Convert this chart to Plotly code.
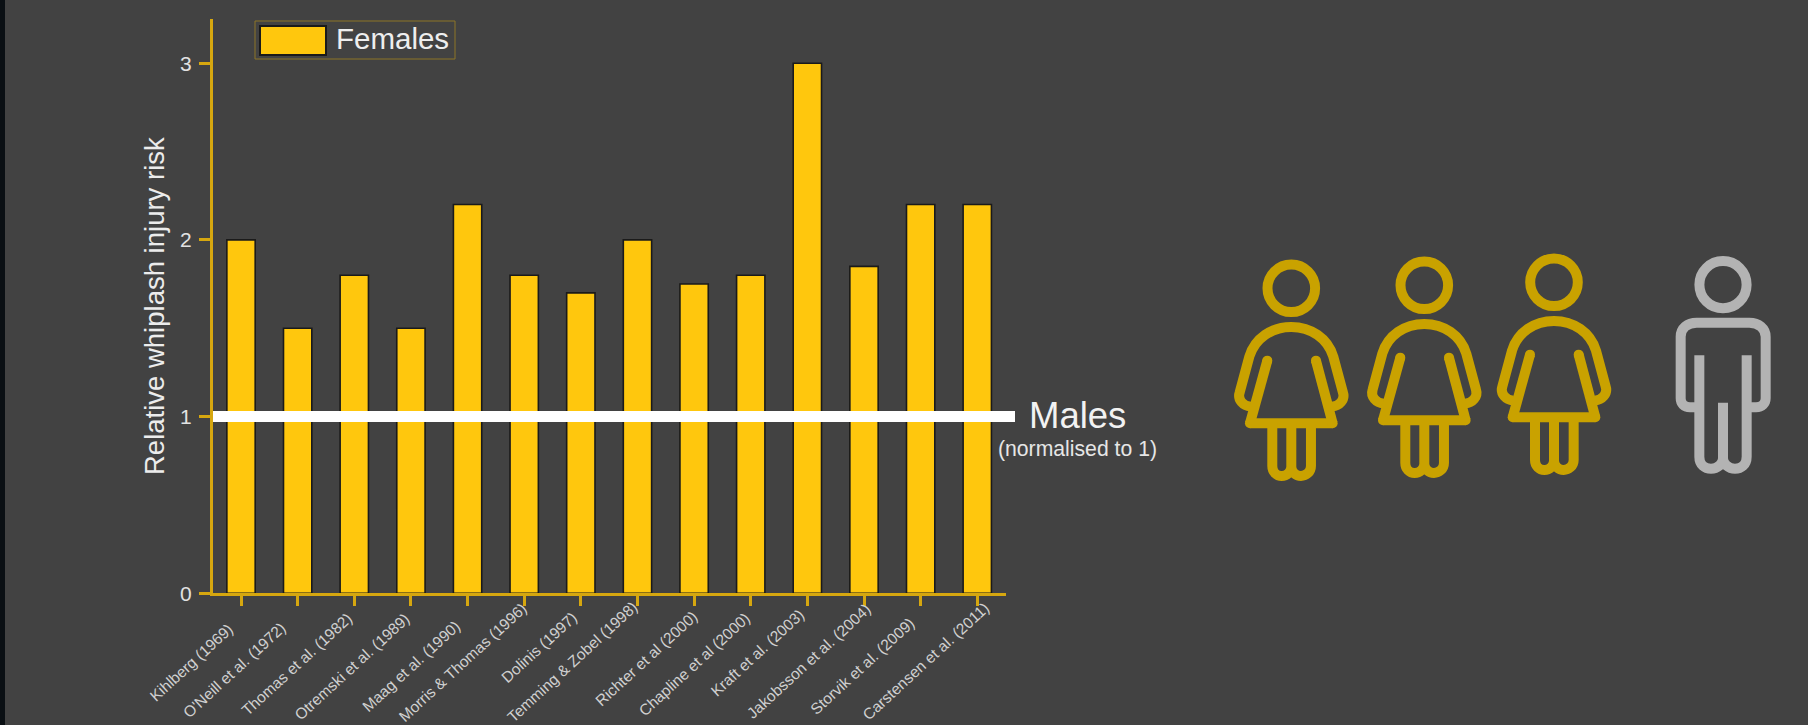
import plotly.graph_objects as go

studies = ["Kihlberg (1969)", "O'Neill et al. (1972)", "Thomas et al. (1982)", "Otremski et al. (1989)",
           "Maag et al. (1990)", "Morris & Thomas (1996)", "Dolinis (1997)", "Temming & Zobel (1998)",
           "Richter et al (2000)", "Chapline et al (2000)", "Kraft et al. (2003)", "Jakobsson et al. (2004)",
           "Storvik et al. (2009)", "Carstensen et al. (2011)"]
female_risk = [2, 1.5, 1.8, 1.5, 2.2, 1.8, 1.7, 2, 1.75, 1.8, 3, 1.85, 2.2, 2.2]
male_reference = 1
y_ticks = [0, 1, 2, 3]

# Study labels sit by hand under their ticks: centre offset from the tick, and centre height
label_shift = [-50, -64, -58, -59, -57, -62, -42, -65, -48, -57, -50, -56, -59, -52]
label_centre_y = [662, 670, 664, 666, 666, 662, 647, 661, 658, 664, 652, 661, 666, 661]

W, H = 1808, 725
BG = "#424242"
GOLD_AXIS = "#d6a70f"
BAR = "#ffc70d"
ICON_F = "#c9a200"
ICON_M = "#b3b3b3"
FONT = "Liberation Sans"


def px(x):
    return x / W


def py(y):
    return 1 - y / H


def paper_path(segments, ox, oy):
    """Turn icon outline commands (third-pixel units around the head) into a paper-space path."""
    out = []
    for cmd, *pts in segments:
        coords = []
        for a, b in pts:
            coords.append(f"{px(ox + a / 3):.6f},{py(oy + b / 3):.6f}")
        out.append(cmd + " " + " ".join(coords))
    return " ".join(out)


def stroke(path, colour, width):
    return dict(type="path", xref="paper", yref="paper", path=path,
                line=dict(color=colour, width=width), fillcolor="rgba(0,0,0,0)")


def disc(x, y, r, colour, fill=True, width=0):
    return dict(type="circle", xref="paper", yref="paper",
                x0=px(x - r), x1=px(x + r), y0=py(y + r), y1=py(y - r),
                fillcolor=colour if fill else "rgba(0,0,0,0)",
                line=dict(color=colour, width=width))


ICON_W = 10

FEMALE_BODY = [("M", (-122, 355)), ("C", (-144, 353), (-162, 335), (-155, 313)), ("L", (-126, 205)),
               ("C", (-109, 150), (-59, 116), (0, 116)), ("C", (59, 116), (109, 150), (126, 205)),
               ("L", (155, 313)), ("C", (162, 335), (144, 353), (122, 355))]
FEMALE_DRESS = [
    [("M", (-72, 217)), ("L", (-124, 405))],
    [("M", (-124, 405)), ("L", (124, 405))],
    [("M", (124, 405)), ("L", (74, 217))],
]
FEMALE_LEGS = [("M", (-57, 405)), ("L", (-57, 533)), ("C", (-57, 551), (-44, 563), (-29, 563)),
               ("C", (-14, 563), (0, 551), (0, 535)), ("L", (0, 405)),
               ("M", (0, 535)), ("C", (0, 551), (14, 563), (29, 563)),
               ("C", (44, 563), (59, 551), (59, 533)), ("L", (59, 405))]
FEMALE_CAPS = [(-72, 217), (74, 217), (-124, 405), (124, 405)]

MALE_BODY = [("M", (-71, 368)), ("L", (-99, 368)), ("C", (-117, 368), (-127, 356), (-127, 341)), ("L", (-127, 156)),
             ("C", (-127, 131), (-107, 114), (-79, 114)), ("L", (79, 114)),
             ("C", (107, 114), (128, 131), (128, 156)), ("L", (128, 341)),
             ("C", (128, 356), (117, 368), (99, 368)), ("L", (71, 368))]
MALE_LEGS = [("M", (-71, 212)), ("L", (-71, 516)), ("C", (-71, 541), (-54, 552), (-36, 552)),
             ("C", (-17, 552), (0, 538), (0, 521)), ("L", (0, 354)),
             ("M", (0, 521)), ("C", (0, 538), (17, 552), (36, 552)),
             ("C", (54, 552), (71, 541), (71, 516)), ("L", (71, 212))]


def female_icon(ox, oy):
    items = [disc(ox, oy, 23.8, ICON_F, fill=False, width=ICON_W)]
    for part in [FEMALE_BODY, *FEMALE_DRESS, FEMALE_LEGS]:
        items.append(stroke(paper_path(part, ox, oy), ICON_F, ICON_W))
    for a, b in FEMALE_CAPS:
        items.append(disc(ox + a / 3, oy + b / 3, ICON_W / 2, ICON_F))
    return items


def male_icon(ox, oy):
    items = [disc(ox, oy, 23.6, ICON_M, fill=False, width=ICON_W)]
    for part in (MALE_BODY, MALE_LEGS):
        items.append(stroke(paper_path(part, ox, oy), ICON_M, ICON_W))
    return items


fig = go.Figure(go.Bar(x=studies, y=female_risk, name="Females", width=0.5,
                       marker=dict(color=BAR, line=dict(color="#1a1a1a", width=1.6)),
                       showlegend=False))

shapes = [
    # Dark strip down the left edge of the page
    dict(type="rect", xref="paper", yref="paper", x0=0, x1=px(5), y0=0, y1=1,
         fillcolor="#0a0f13", line=dict(width=0)),
    # Male reference level, running just past the end of the axis
    dict(type="line", xref="paper", yref="y", x0=px(213), x1=px(1015), y0=male_reference, y1=male_reference,
         line=dict(color="#ffffff", width=11)),
    # Legend frame and swatch
    dict(type="rect", xref="paper", yref="paper", x0=px(255), x1=px(455), y0=py(59), y1=py(21),
         line=dict(color="#8c7426", width=1), fillcolor="rgba(0,0,0,0)"),
    dict(type="rect", xref="paper", yref="paper", x0=px(260), x1=px(326), y0=py(55), y1=py(26),
         line=dict(color="#1a1a1a", width=2), fillcolor=BAR),
]
for head in [(1291.3, 288.3), (1424.3, 285.3), (1554, 282.3)]:
    shapes += female_icon(*head)
shapes += male_icon(1723, 284.7)

annotations = [
    dict(xref="paper", yref="paper", x=px(334), y=py(39), text="Females", showarrow=False,
         xanchor="left", yanchor="middle", font=dict(family=FONT, size=29.5, color="#eeeeee")),
    dict(xref="paper", yref="paper", x=px(1027), y=py(415), text="Males", showarrow=False,
         xanchor="left", yanchor="middle", font=dict(family=FONT, size=36.5, color="#f2f2f2")),
    dict(xref="paper", yref="paper", x=px(996), y=py(449), text="(normalised to 1)", showarrow=False,
         xanchor="left", yanchor="middle", font=dict(family=FONT, size=21.2, color="#e6e6e6")),
]
for name, shift, centre in zip(studies, label_shift, label_centre_y):
    annotations.append(dict(xref="x", yref="paper", x=name, y=py(centre), xshift=shift, text=name,
                            showarrow=False, xanchor="center", yanchor="middle", textangle=-42.5,
                            font=dict(family=FONT, size=15.5, color="#d0d0d0")))

fig.update_layout(
    width=W, height=H, margin=dict(l=0, r=0, t=0, b=0, autoexpand=False),
    paper_bgcolor=BG, plot_bgcolor=BG,
    font=dict(family=FONT),
    shapes=shapes, annotations=annotations,
    xaxis=dict(domain=[px(212.7), px(1005.6)], type="category", range=[-0.5, 13.5], automargin=False,
               categoryorder="array", categoryarray=studies, tickmode="linear",
               showgrid=False, zeroline=False, showline=True, linecolor=GOLD_AXIS, linewidth=2.5,
               ticks="outside", ticklen=10, tickwidth=2.5, tickcolor=GOLD_AXIS, showticklabels=False),
    yaxis=dict(domain=[py(593.3), py(19)], range=[0, 3.25], automargin=False,
               tickmode="array", tickvals=y_ticks,
               showgrid=False, zeroline=False, showline=True, linecolor=GOLD_AXIS, linewidth=2.5,
               ticks="outside", ticklen=11, tickwidth=2.5, tickcolor=GOLD_AXIS,
               tickfont=dict(family=FONT, size=21, color="#e2e2e2"), ticklabelstandoff=3,
               title=dict(text="Relative whiplash injury risk", standoff=8,
                          font=dict(family=FONT, size=27.5, color="#ececec"))),
)

fig.write_html("out.html")
